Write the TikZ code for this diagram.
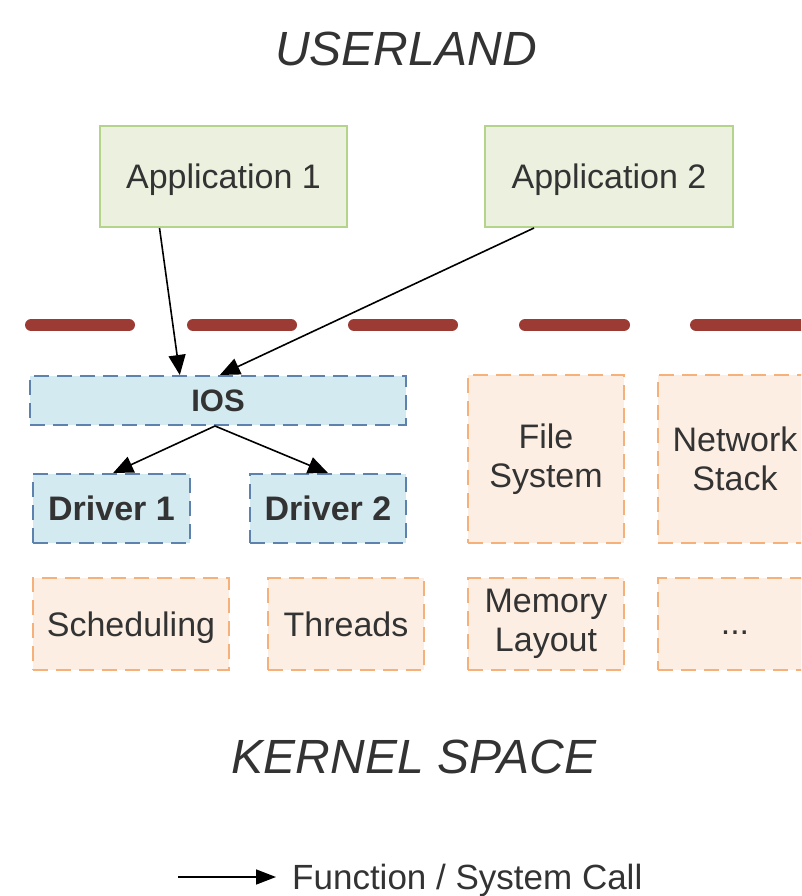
\documentclass[tikz,border=0pt]{standalone}
\usepackage{fontspec}
\setmainfont{Liberation Sans}
\usetikzlibrary{arrows.meta,calc}
\definecolor{txt}{HTML}{333333}
\definecolor{appfill}{HTML}{EBF1DE}
\definecolor{appdraw}{HTML}{B3D48A}
\definecolor{iosfill}{HTML}{D3EAF0}
\definecolor{iosdraw}{HTML}{5E82AE}
\definecolor{kfill}{HTML}{FCEEE3}
\definecolor{kdraw}{HTML}{F6B07A}
\definecolor{sep}{HTML}{9C3A34}
\tikzset{
  base/.style={inner sep=0pt, align=center, text=txt, font=\fontsize{34}{39}\selectfont},
  oneline/.style={text depth=0pt},
  appbox/.style={base, oneline, draw=appdraw, fill=appfill, line width=2pt},
  iosbox/.style={base, oneline, draw=iosdraw, fill=iosfill, line width=2pt, dash pattern=on 15pt off 8pt, font=\fontsize{34}{39}\selectfont\bfseries},
  kbox/.style={base, draw=kdraw, fill=kfill, line width=2pt, dash pattern=on 15pt off 8pt},
  call/.style={line width=1.6pt, -{Triangle[length=20pt,width=17pt]}},
  title/.style={text=txt, font=\fontsize{48}{52}\selectfont\itshape},
}
\begin{document}
\begin{tikzpicture}[x=1pt,y=-1pt]
\useasboundingbox (0,0) rectangle (801,896);
\clip (0,0) rectangle (801,896);
\node[title] (user) at (406,49) {USERLAND};
\node[title] (kern) at (414,757) {KERNEL SPACE};

\node[appbox, minimum width=247pt, minimum height=101pt] (app1) at (223.5,176.5) {Application 1};
\node[appbox, minimum width=248pt, minimum height=101pt] (app2) at (609,176.5) {Application 2};

\foreach \a/\b in {31/129,193/291,354/452,525/624,696/812}
  \draw[sep, line width=12pt, line cap=round] (\a,325) -- (\b,325);

\node[iosbox, minimum width=376pt, minimum height=49pt, font=\fontsize{31}{36}\selectfont\bfseries] (ios) at (218,400.5) {IOS};
\node[iosbox, minimum width=157pt, minimum height=69pt] (drv1) at (111.5,508.5) {Driver 1};
\node[iosbox, minimum width=156pt, minimum height=69pt] (drv2) at (328,508.5) {Driver 2};

\node[kbox, minimum width=156pt, minimum height=168pt] (fs) at (546,459) {File\\System};
\node[kbox, minimum width=154pt, minimum height=168pt] (net) at (735,459) {Network\\Stack};
\node[kbox, oneline, minimum width=196pt, minimum height=92pt] (sched) at (131,624) {Scheduling};
\node[kbox, oneline, minimum width=156pt, minimum height=92pt] (thr) at (346,624) {Threads};
\node[kbox, minimum width=156pt, minimum height=92pt] (mem) at (546,624) {Memory\\Layout};
\node[kbox, minimum width=154pt, minimum height=92pt,
  label={[text=txt, font=\fontsize{34}{39}\selectfont, inner sep=0pt, yshift=-9pt]center:...}] (dots) at (735,624) {};

\draw[call] ($(app1.south west)!0.243!(app1.south east)$) -- ($(ios.north west)!0.399!(ios.north east)$);
\draw[call] ($(app2.south west)!0.2!(app2.south east)$) -- ($(ios.north west)!0.505!(ios.north east)$);
\draw[call] ($(ios.south west)!0.492!(ios.south east)$) -- ($(drv1.north west)!0.51!(drv1.north east)$);
\draw[call] ($(ios.south west)!0.492!(ios.south east)$) -- ($(drv2.north west)!0.5!(drv2.north east)$);

\coordinate (la) at (178,877);
\coordinate (lb) at (276,877);
\node[base, anchor=west, font=\fontsize{35}{40}\selectfont] (legend) at (292,880) {Function / System Call};
\draw[call, -{Triangle[length=20pt,width=15pt]}] (la) -- (lb);
\end{tikzpicture}
\end{document}
